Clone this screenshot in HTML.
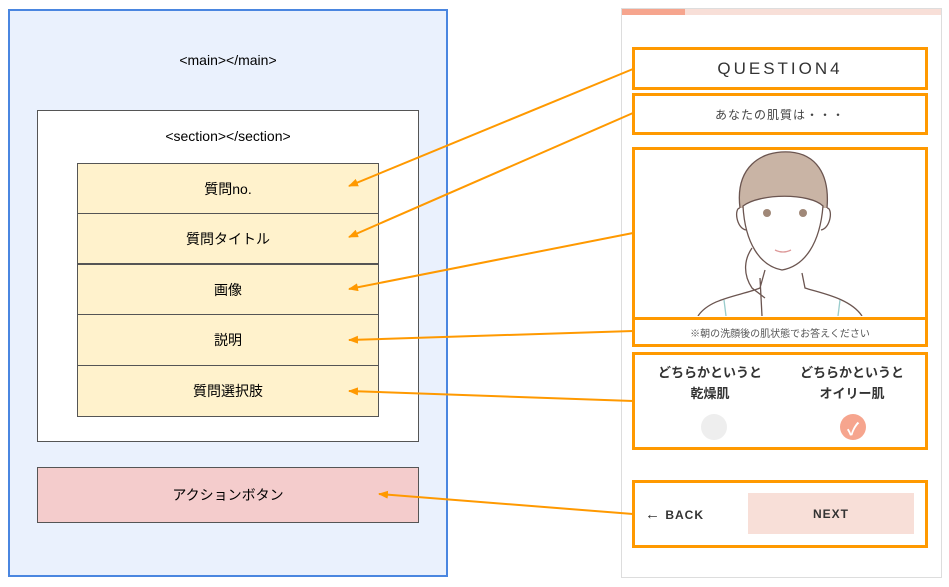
<!DOCTYPE html>
<html><head><meta charset="utf-8"><style>
body{margin:0;width:949px;height:587px;background:#fff;position:relative;overflow:hidden;font-family:"Liberation Sans","Noto Sans CJK JP",sans-serif;}
.a{position:absolute;box-sizing:border-box;}
.t{display:flex;align-items:center;justify-content:center;font-size:14px;color:#000;}
.o{border:3px solid #ff9900;}
</style></head><body>
<div class="a" style="left:8px;top:9px;width:440px;height:568px;background:#eaf1fd;border:2px solid #4a86e0;"></div>
<div class="a t" style="left:8px;top:48px;width:440px;height:24px;">&lt;main&gt;&lt;/main&gt;</div>
<div class="a" style="left:37px;top:110px;width:382px;height:332px;background:#fff;border:1px solid #555;"></div>
<div class="a t" style="left:37px;top:124px;width:382px;height:24px;">&lt;section&gt;&lt;/section&gt;</div>
<div class="a t" style="left:77px;top:163px;width:302px;height:51px;background:#fff2cc;border:1px solid #555;">質問no.</div>
<div class="a t" style="left:77px;top:213px;width:302px;height:51px;background:#fff2cc;border:1px solid #555;">質問タイトル</div>
<div class="a t" style="left:77px;top:264px;width:302px;height:51px;background:#fff2cc;border:1px solid #555;">画像</div>
<div class="a t" style="left:77px;top:314px;width:302px;height:52px;background:#fff2cc;border:1px solid #555;">説明</div>
<div class="a t" style="left:77px;top:365px;width:302px;height:52px;background:#fff2cc;border:1px solid #555;">質問選択肢</div>
<div class="a t" style="left:37px;top:467px;width:382px;height:56px;background:#f4cccc;border:1px solid #555;">アクションボタン</div>

<div class="a" style="left:621px;top:8px;width:321px;height:570px;border:1px solid #ddd;background:#fff;"></div>
<div class="a" style="left:622px;top:9px;width:319px;height:6px;background:#f8dfd8;"></div>
<div class="a" style="left:622px;top:9px;width:63px;height:6px;background:#f6a58e;"></div>
<div class="a t o" style="left:632px;top:47px;width:296px;height:43px;font-size:17px;letter-spacing:3px;color:#333;">QUESTION4</div>
<div class="a t o" style="left:632px;top:93px;width:296px;height:42px;font-size:12px;letter-spacing:1px;color:#444;">あなたの肌質は・・・</div>
<div class="a o" style="left:632px;top:147px;width:296px;height:173px;"></div>
<svg class="a" style="left:690px;top:148px" width="180" height="168" viewBox="0 0 180 168" fill="none" stroke="#6b5550" stroke-width="1.3">
<path d="M50 60 C45 20 70 2 100 4 C125 6 140 25 137 60" fill="#c9b4a5"/>
<path d="M53 58 C55 95 70 118 92 122 C115 118 130 95 133 58 C120 45 70 45 53 58Z" fill="#fff"/>
<path d="M50 60 C44 60 46 80 56 82 M137 60 C143 60 141 80 131 82"/>
<circle cx="77" cy="65" r="4" fill="#a08878" stroke="none"/><circle cx="113" cy="65" r="4" fill="#a08878" stroke="none"/>
<path d="M85 102 Q93 106 101 102" stroke="#d99"/>
<path d="M62 100 C55 110 52 125 62 140 L75 150 M70 130 L72 168 M112 125 L115 140 C130 145 160 150 172 168 M75 122 L70 140 C50 148 20 150 8 168"/>
<path d="M34 152 L36 168 M150 152 L148 168" stroke="#9cc"/>
</svg>
<div class="a t o" style="left:632px;top:317px;width:296px;height:30px;font-size:10px;color:#555;">※朝の洗顔後の肌状態でお答えください</div>
<div class="a o" style="left:632px;top:352px;width:296px;height:98px;"></div>
<div class="a" style="left:640px;top:362px;width:140px;text-align:center;font-size:13px;font-weight:bold;color:#333;line-height:21px;">どちらかというと<br>乾燥肌</div>
<div class="a" style="left:782px;top:362px;width:140px;text-align:center;font-size:13px;font-weight:bold;color:#333;line-height:21px;">どちらかというと<br>オイリー肌</div>
<div class="a" style="left:701px;top:414px;width:26px;height:26px;border-radius:50%;background:#eee;"></div>
<div class="a t" style="left:840px;top:414px;width:26px;height:26px;border-radius:50%;background:#f6a58e;color:#fff;font-size:17px;font-weight:bold;">✓</div>
<div class="a o" style="left:632px;top:480px;width:296px;height:68px;"></div>
<div class="a" style="left:645px;top:506px;font-size:12px;font-weight:bold;color:#333;letter-spacing:1px;"><span style="font-size:15px;font-weight:normal">←</span> BACK</div>
<div class="a t" style="left:748px;top:493px;width:166px;height:41px;background:#f8dfd8;font-size:12px;font-weight:bold;color:#333;letter-spacing:1px;">NEXT</div>

<svg class="a" style="left:0;top:0" width="949" height="587">
<defs><marker id="m" markerWidth="10" markerHeight="8" refX="9" refY="4" orient="auto" markerUnits="userSpaceOnUse"><path d="M0 0 L10 4 L0 8 Z" fill="#ff9900"/></marker></defs>
<g stroke="#ff9900" stroke-width="2" fill="none" marker-end="url(#m)">
<line x1="633" y1="69" x2="349" y2="186"/>
<line x1="633" y1="113" x2="349" y2="237"/>
<line x1="633" y1="233" x2="349" y2="289"/>
<line x1="633" y1="331" x2="349" y2="340"/>
<line x1="633" y1="401" x2="349" y2="391"/>
<line x1="633" y1="514" x2="379" y2="494"/>
</g></svg>
</body></html>
